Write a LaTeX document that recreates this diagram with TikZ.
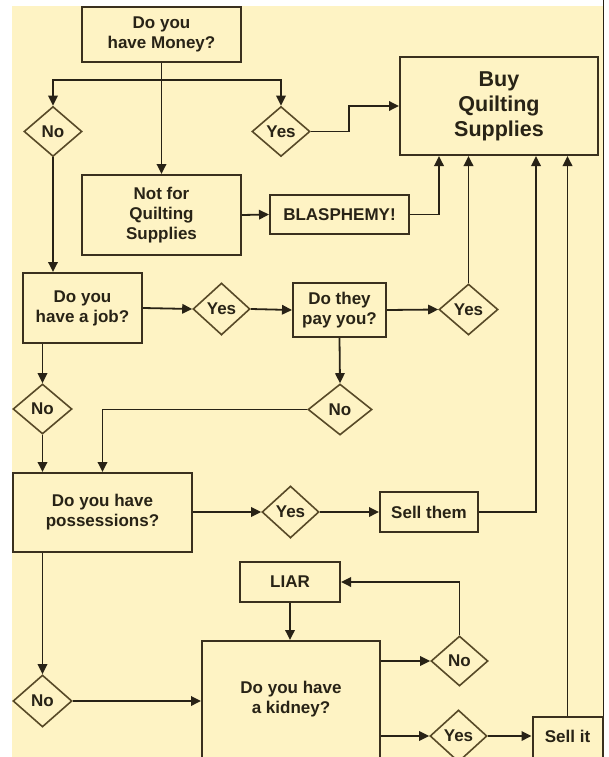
\documentclass[tikz,border=0pt]{standalone}
\usepackage{fontspec}
\setmainfont{Liberation Sans}
\usetikzlibrary{arrows.meta,shapes.geometric}
\definecolor{bgyellow}{RGB}{254,243,196}
\definecolor{inkline}{RGB}{40,34,22}
\definecolor{boxline}{RGB}{58,48,30}
\definecolor{diamline}{RGB}{88,74,40}
\definecolor{inktext}{RGB}{40,35,22}
\tikzset{
  every node/.style={font=\fontsize{17}{20}\selectfont\bfseries, text=inktext, align=center},
  stepbox/.style={draw=boxline, line width=2pt, fill=bgyellow, rectangle, inner sep=0pt},
  decide/.style={draw=diamline, line width=1.6pt, fill=bgyellow, diamond, inner sep=0pt, minimum width=58pt, minimum height=50pt},
  arr/.style={draw=inkline, line width=1.8pt, -{Triangle[length=10pt,width=9.5pt]}},
}
\begin{document}
\begin{tikzpicture}[x=1pt,y=-1pt]
\useasboundingbox (0,0) rectangle (608,757);
\fill[white] (0,0) rectangle (608,757);
\fill[bgyellow] (12,6) rectangle (603,757);
\draw[inkline, line width=1.5pt] (603.5,0) -- (603.5,757);

% boxes
\node[stepbox, minimum width=159pt, minimum height=55pt] (money) at (161.5,34.5) {Do you\\have Money?};
\node[stepbox, minimum width=159pt, minimum height=80pt] (notfor) at (161.5,215) {Not for\\Quilting\\Supplies};
\node[stepbox, minimum width=139pt, minimum height=39pt] (blas) at (339.5,214.5) {BLASPHEMY!};
\node[stepbox, minimum width=198pt, minimum height=98pt, font=\fontsize{21.5}{25}\selectfont\bfseries] (buy) at (499,106) {Buy\\Quilting\\Supplies};
\node[stepbox, minimum width=119pt, minimum height=70pt] (job) at (82.5,308) {Do you\\have a job?};
\node[stepbox, minimum width=93pt, minimum height=54pt] (pay) at (339.5,310) {Do they\\pay you?};
\node[stepbox, minimum width=179pt, minimum height=79pt] (poss) at (102.5,512.5) {Do you have\\possessions?};
\node[stepbox, minimum width=98pt, minimum height=40pt] (sellthem) at (429,512) {Sell them};
\node[stepbox, minimum width=100pt, minimum height=40pt] (liar) at (290,582) {LIAR};
\node[stepbox, minimum width=178pt, minimum height=140pt, anchor=north] (kidney) at (291,640) {};
\node (kidneytext) at (291,699) {Do you have\\a kidney?};
\node[stepbox, minimum width=70pt, minimum height=44pt, anchor=north] (sellit) at (567.5,716) {};
\node (sellittext) at (567.5,736) {Sell it};

% diamonds
\node[decide] (nodiam1) at (53,131.5) {No};
\node[decide] (yesdiam1) at (281,131.5) {Yes};
\node[decide, minimum width=57pt, minimum height=52pt] (yesdiam2) at (221.5,309) {Yes};
\node[decide, minimum width=59pt, minimum height=51pt] (yesdiam3) at (468.5,309.5) {Yes};
\node[decide, minimum width=64pt, minimum height=51pt] (nodiam3) at (340,409.5) {No};
\node[decide, minimum width=59pt] (nodiam2) at (42.5,409) {No};
\node[decide, minimum width=57pt, minimum height=52pt] (yesdiam4) at (290.5,512) {Yes};
\node[decide, minimum width=59pt, minimum height=52pt] (nodiam4) at (42.5,701) {No};
\node[decide, minimum width=57pt] (nodiam5) at (459.5,661) {No};
\node[decide, minimum width=57pt, minimum height=52pt] (yesdiam5) at (458.5,736) {Yes};

\coordinate (split) at (161.5,80);

% connectors
\draw[arr] (money.south) -- (notfor.north);
\draw[arr] (split) -| (nodiam1.north);
\draw[arr] (split) -| (yesdiam1.north);
\draw[arr] (yesdiam1.east) -- ++(38,0) |- (buy.west);
\draw[arr] (notfor.east) -- (blas.west);
\draw[arr] (blas.east) -| ([xshift=-60pt]buy.south);
\draw[arr] (nodiam1.south) -- (nodiam1.south |- job.north);
\draw[arr] (job.east) -- (yesdiam2.west);
\draw[arr] (yesdiam2.east) -- (pay.west);
\draw[arr] (pay.east) -- (yesdiam3.west);
\draw[arr] (yesdiam3.north) -- (yesdiam3.north |- buy.south);
\draw[arr] (pay.south) -- (nodiam3.north);
\draw[arr] (nodiam3.west) -| (poss.north);
\draw[arr] (nodiam2.north |- job.south) -- (nodiam2.north);
\draw[arr] (nodiam2.south) -- (nodiam2.south |- poss.north);
\draw[arr] (poss.east |- yesdiam4.west) -- (yesdiam4.west);
\draw[arr] (yesdiam4.east) -- (sellthem.west);
\draw[arr] (sellthem.east) -| ([xshift=37pt]buy.south);
\draw[arr] (nodiam4.north |- poss.south) -- (nodiam4.north);
\draw[arr] (nodiam4.east) -- (kidney.west |- nodiam4.east);
\draw[arr] (liar.south) -- (liar.south |- kidney.north);
\draw[arr] (kidney.east |- nodiam5.west) -- (nodiam5.west);
\draw[arr] (nodiam5.north) |- (liar.east);
\draw[arr] (kidney.east |- yesdiam5.west) -- (yesdiam5.west);
\draw[arr] (yesdiam5.east) -- (sellit.west |- yesdiam5.east);
\draw[arr] (sellit.north) -- (sellit.north |- buy.south);
\end{tikzpicture}
\end{document}
